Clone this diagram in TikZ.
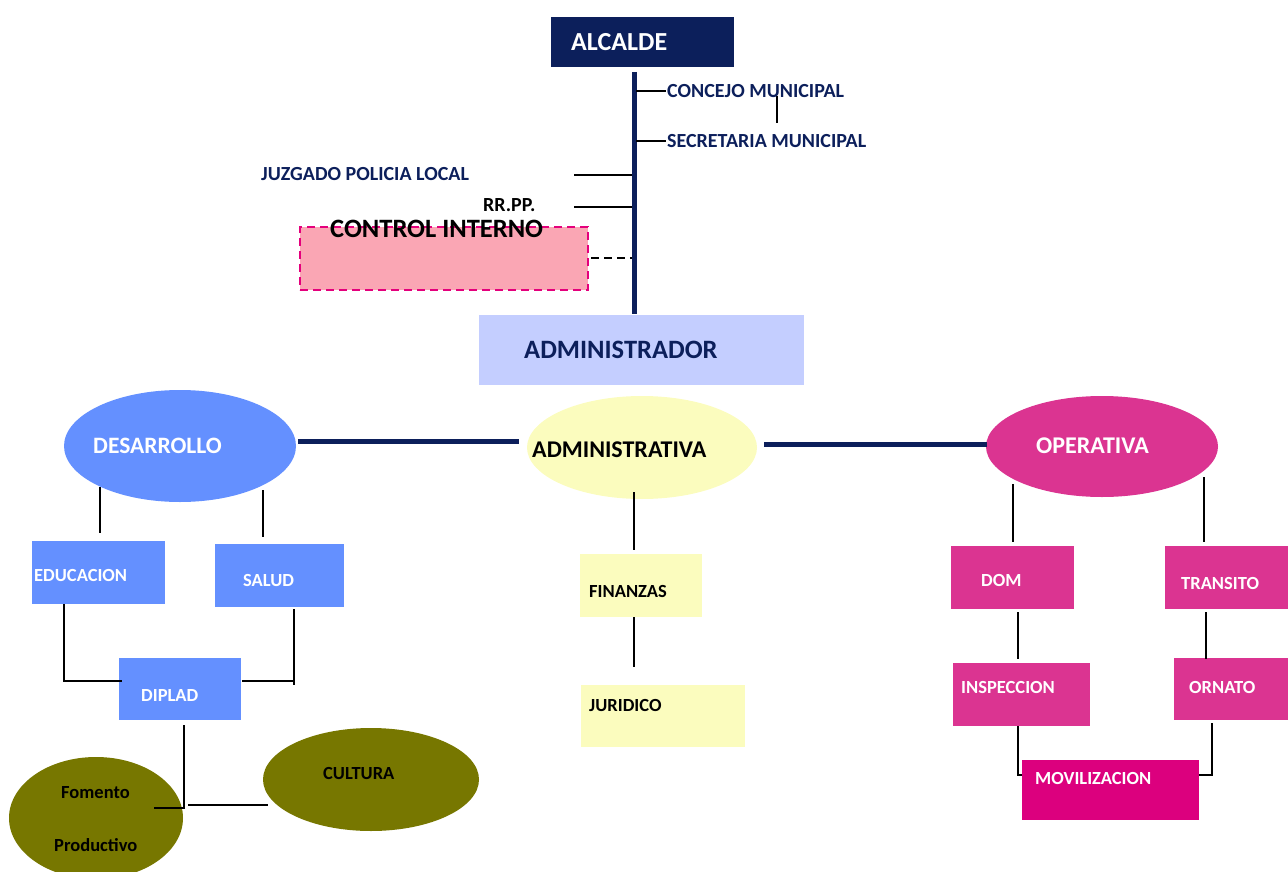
\documentclass[tikz,border=0pt]{standalone}
\usepackage{fontspec}
\setmainfont{Carlito}
\usetikzlibrary{shapes.geometric}
\definecolor{navy}{RGB}{12,31,91}
\definecolor{pinkfill}{RGB}{250,166,180}
\definecolor{magline}{RGB}{228,0,124}
\definecolor{adminblue}{RGB}{196,206,255}
\definecolor{desblue}{RGB}{100,144,255}
\definecolor{lyellow}{RGB}{251,252,190}
\definecolor{opmag}{RGB}{219,52,145}
\definecolor{movmag}{RGB}{220,0,126}
\definecolor{olive}{RGB}{119,119,0}
\newcommand{\fsz}[1]{\fontsize{#1}{#1}\selectfont\bfseries}
\tikzset{
  box/.style={rectangle, draw=none, inner sep=0pt},
  oval/.style={ellipse, draw=none, inner sep=0pt},
  txt/.style={anchor=west, inner sep=0pt},
  mainline/.style={navy, line width=5pt},
  conn/.style={black, line width=2.5pt},
}
\begin{document}
\begin{tikzpicture}[x=1pt,y=-1pt]
\useasboundingbox (0,0) rectangle (1288,872);
% ---------- boxes ----------
\node[box, fill=navy, minimum width=183pt, minimum height=50pt] (alcalde) at (642.5,42) {};
\node[box, fill=pinkfill, draw=magline, line width=2.5pt, dash pattern=on 8pt off 5pt, minimum width=288pt, minimum height=63pt] (control) at (444,258.5) {};
\node[box, fill=adminblue, minimum width=325pt, minimum height=70pt] (admin) at (641.5,350) {};
\node[oval, fill=desblue, minimum width=232pt, minimum height=112pt] (desa) at (180,446) {};
\node[oval, fill=lyellow, minimum width=230pt, minimum height=103pt] (adm) at (642,447.5) {};
\node[oval, fill=opmag, minimum width=232pt, minimum height=101pt] (oper) at (1102,446.5) {};
\node[box, fill=desblue, minimum width=133pt, minimum height=63pt] (edu) at (98.5,572.5) {};
\node[box, fill=desblue, minimum width=129pt, minimum height=63pt] (salud) at (279.5,575.5) {};
\node[box, fill=desblue, minimum width=122pt, minimum height=62pt] (diplad) at (180,689) {};
\node[oval, fill=olive, minimum width=216pt, minimum height=103pt] (cultura) at (371,779.5) {};
\node[oval, fill=olive, minimum width=174pt, minimum height=122pt] (fomento) at (96,818) {};
\node[box, fill=lyellow, minimum width=122pt, minimum height=63pt] (fin) at (641,585.5) {};
\node[box, fill=lyellow, minimum width=164pt, minimum height=62pt] (jur) at (663,716) {};
\node[box, fill=opmag, minimum width=123pt, minimum height=63pt] (dom) at (1012.5,577.5) {};
\node[box, fill=opmag, minimum width=123pt, minimum height=63pt] (tran) at (1226.5,577.5) {};
\node[box, fill=opmag, minimum width=137pt, minimum height=63pt] (insp) at (1021.5,694.5) {};
\node[box, fill=opmag, minimum width=114pt, minimum height=62pt] (orn) at (1231,689) {};
\node[box, fill=movmag, minimum width=177pt, minimum height=60pt] (mov) at (1110.5,790) {};
% ---------- coordinates ----------
\coordinate (vtop) at (634,72);
\coordinate (vbot) at (634,314);
\coordinate (c1a) at (636,91);  \coordinate (c1b) at (666,91);
\coordinate (c2a) at (777,96);  \coordinate (c2b) at (777,123);
\coordinate (s1a) at (636,141); \coordinate (s1b) at (666,141);
\coordinate (j1a) at (574,175); \coordinate (j1b) at (632,175);
\coordinate (r1a) at (574,207); \coordinate (r1b) at (632,207);
\coordinate (ci1) at (591,258); \coordinate (ci2) at (632,258);
\coordinate (h1a) at (298,441); \coordinate (h1b) at (519,441);
\coordinate (h2a) at (764,444); \coordinate (h2b) at (987,444);
% ---------- main lines ----------
\draw[mainline] (vtop) -- (vbot);
\draw[mainline] (h1a) -- (h1b);
\draw[mainline] (h2a) -- (h2b);
% ---------- top ticks ----------
\draw[conn, line width=2.2pt] (c1a) -- (c1b);
\draw[conn, line width=1.6pt] (c2a) -- (c2b);
\draw[conn, line width=2.2pt] (s1a) -- (s1b);
\draw[conn] (j1a) -- (j1b);
\draw[conn] (r1a) -- (r1b);
\draw[conn, dash pattern=on 8pt off 5pt] (ci1) -- (ci2);
% ---------- left branch ----------
\draw[conn] (100,487) -- (100,533);
\draw[conn] (263,490) -- (263,537);
\draw[conn] (64,604) -- (64,681) -- (122,681);
\draw[conn] (294,609) -- (294,685);
\draw[conn] (242,681) -- (294,681);
\draw[conn] (184,725) -- (184,808) -- (154,808);
\draw[conn] (188,805) -- (268,805);
% ---------- middle ----------
\draw[conn] (634,492) -- (634,550);
\draw[conn] (634,617) -- (634,667);
% ---------- right branch ----------
\draw[conn] (1013,484) -- (1013,542);
\draw[conn] (1204,477) -- (1204,542);
\draw[conn] (1018,612) -- (1018,659);
\draw[conn] (1206,612) -- (1206,659);
\draw[conn] (1018,726) -- (1018,775) -- (1022,775);
\draw[conn] (1212,723) -- (1212,775) -- (1199,775);
% ---------- texts ----------
\node[txt, text=white, font=\fsz{26}] (talc) at (571,42) {ALCALDE};
\node[txt, text=navy, font=\fsz{20}] (tcon) at (667,91) {CONCEJO MUNICIPAL};
\node[txt, text=navy, font=\fsz{20}] (tsec) at (667,141) {SECRETARIA MUNICIPAL};
\node[txt, text=navy, font=\fsz{20}] (tjuz) at (261,174) {JUZGADO POLICIA LOCAL};
\node[txt, text=black, font=\fsz{20}] (trr) at (483,205) {RR.PP.};
\node[txt, text=black, font=\fsz{26.5}] (tci) at (330,229) {CONTROL INTERNO};
\node[txt, text=navy, font=\fsz{26.5}] (tadm) at (524,350) {ADMINISTRADOR};
\node[txt, text=white, font=\fsz{23.5}] (tdes) at (93,446) {DESARROLLO};
\node[txt, text=black, font=\fsz{24}] (tadv) at (532,450) {ADMINISTRATIVA};
\node[txt, text=white, font=\fsz{24}] (top) at (1036,446) {OPERATIVA};
\node[txt, text=white, font=\fsz{18.5}] (tedu) at (34,575) {EDUCACION};
\node[txt, text=white, font=\fsz{18.5}] (tsal) at (243,580) {SALUD};
\node[txt, text=white, font=\fsz{18.5}] (tdip) at (141,695) {DIPLAD};
\node[txt, text=black, font=\fsz{18.5}] (tfom) at (61,793) {Fomento};
\node[txt, text=black, font=\fsz{18.5}] (tpro) at (54,845) {Productivo};
\node[txt, text=black, font=\fsz{18.5}] (tcul) at (323,773) {CULTURA};
\node[txt, text=black, font=\fsz{18.5}] (tfin) at (589,591) {FINANZAS};
\node[txt, text=black, font=\fsz{18.5}] (tjur) at (589,705) {JURIDICO};
\node[txt, text=white, font=\fsz{18.5}] (tdom) at (981,580) {DOM};
\node[txt, text=white, font=\fsz{18.5}] (ttra) at (1181,583) {TRANSITO};
\node[txt, text=white, font=\fsz{18.5}] (tins) at (961,687) {INSPECCION};
\node[txt, text=white, font=\fsz{18.5}] (torn) at (1189,687) {ORNATO};
\node[txt, text=white, font=\fsz{18.5}] (tmov) at (1035,778) {MOVILIZACION};
\end{tikzpicture}
\end{document}
